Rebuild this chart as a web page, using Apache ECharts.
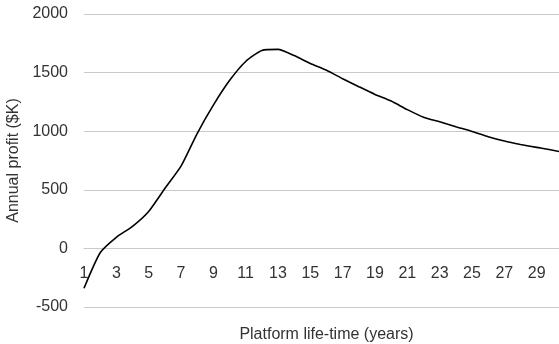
<!DOCTYPE html>
<html>
<head>
<meta charset="utf-8">
<script src="https://cdn.jsdelivr.net/npm/echarts@6/dist/echarts.min.js"></script>
<style>
  html, body { margin: 0; padding: 0; overflow: hidden; background: #fff; }
  #chart { width: 559px; height: 344px; }
</style>
</head>
<body>
<div id="chart"></div>
<script>
// Platform life-time in years (category axis)
const years = [1,2,3,4,5,6,7,8,9,10,11,12,13,14,15,16,17,18,19,20,21,22,23,24,25,26,27,28,29,30,31].map(String);
// Annual profit, $K
const profit = [-340,-37,95,188,315,511,702,980,1222,1432,1595,1689,1698,1645,1578,1520,1448,1380,1314,1257,1184,1120,1080,1038,998,953,916,887,862,838,808];
// Value-axis range
const yMin = -500, yMax = 2000, yStep = 500;

const chart = echarts.init(document.getElementById('chart'), null, { renderer: 'canvas' });
const font = '"Liberation Sans", Arial, sans-serif';
const fontSize = 16;
const gridColor = '#c9c9c9';

chart.setOption({
  animation: false,
  grid: { left: 84, right: -10, top: 14, bottom: 37, containLabel: false, outerBoundsMode: 'none' },
  xAxis: {
    type: 'category',
    data: years,
    boundaryGap: false,
    name: 'Platform life-time (years)',
    nameLocation: 'middle',
    nameGap: 78,
    nameTextStyle: { fontFamily: font, fontSize: fontSize, color: '#333' },
    axisLine: { onZero: false, lineStyle: { color: gridColor, width: 1 } },
    axisTick: { show: false },
    axisLabel: { interval: 1, margin: 17, fontFamily: font, fontSize: fontSize, color: '#333' }
  },
  yAxis: {
    type: 'value',
    min: yMin, max: yMax, interval: yStep,
    name: 'Annual profit ($K)',
    nameLocation: 'middle',
    nameGap: 60,
    nameTextStyle: { fontFamily: font, fontSize: fontSize, color: '#333' },
    axisLine: { show: false },
    axisTick: { show: false },
    axisLabel: { margin: 16, fontFamily: font, fontSize: fontSize, color: '#333', formatter: v => String(v) },
    splitLine: { lineStyle: { color: gridColor, width: 1 } }
  },
  series: [{
    type: 'line',
    data: profit,
    smooth: 0.2,
    showSymbol: false,
    lineStyle: { color: '#000', width: 1.6 }
  }]
});

// Lift the category axis (line, labels and title) up to the zero line of the value axis.
const yZero = chart.convertToPixel({ yAxisIndex: 0 }, 0);
const yBottom = chart.convertToPixel({ yAxisIndex: 0 }, yMin);
chart.setOption({ xAxis: { offset: -(yBottom - yZero) } });
</script>
</body>
</html>
